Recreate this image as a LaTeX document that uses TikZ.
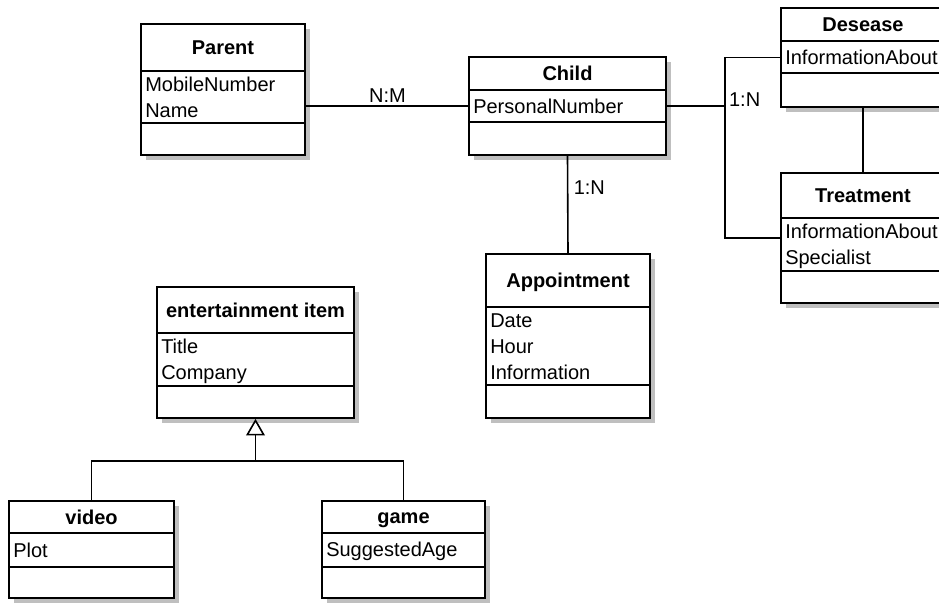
\documentclass[tikz,border=0pt]{standalone}
\usepackage{fontspec}
\setmainfont{Liberation Sans}
\usetikzlibrary{arrows.meta,positioning,fit,calc,shadows}

\newcommand{\rowstrut}{\rule[-2pt]{0pt}{15pt}}
% name, left, top, right, divider 1, divider 2, bottom, title, attributes
\newcommand{\umlclass}[9]{%
  \node[classbox, fit={(#2,#3) (#4,#7)}] (#1) {};
  \draw[conn] (#2,#5) -- (#4,#5) (#2,#6) -- (#4,#6);
  \node[classtitle] (#1-t) at ({(#2+#4)/2},{(#3+#5)/2}) {\rowstrut#8};
  \node[classattr] (#1-a) at (#2,{(#5+#6)/2}) {\rowstrut#9\rowstrut};
}

\begin{document}
\begin{tikzpicture}[x=0.75pt,y=-0.75pt,
    font=\fontsize{15}{19.5}\selectfont,
    classbox/.style={draw,line width=1.2pt,fill=white,inner sep=0pt,
      drop shadow={shadow xshift=4pt,shadow yshift=-4pt,fill=black!25,opacity=1}},
    classtitle/.style={font=\fontsize{15}{18}\selectfont\bfseries,inner sep=0pt},
    classattr/.style={anchor=west,align=left,inner xsep=3pt,inner ysep=0pt},
    conn/.style={line width=1.2pt},
    gen/.style={conn,-{Triangle[open,length=12.5pt,width=14pt]}},
    card/.style={inner sep=2pt}]
  \useasboundingbox (0,0) rectangle (939,603);
  \clip (0,0) rectangle (939,603);

  \umlclass{parent}{141}{24}{305}{71}{123}{155}{Parent}{MobileNumber\\Name}
  \umlclass{child}{469}{57}{666}{90}{122}{155}{Child}{PersonalNumber}
  \umlclass{des}{781}{8}{945}{41}{73}{107}{Desease}{InformationAbout}
  \umlclass{trt}{781}{173}{945}{218}{271}{303}{Treatment}{InformationAbout\\Specialist}
  \umlclass{appt}{486}{254}{650}{307}{385}{418}{Appointment}{Date\\Hour\\Information}
  \umlclass{ent}{157}{287}{354}{333}{386}{418}{entertainment item}{Title\\Company}
  \umlclass{video}{9}{501}{174}{533}{567}{598}{video}{Plot}
  \umlclass{game}{322}{501}{485}{533}{567}{598}{game}{SuggestedAge}

  % associations
  \draw[conn] (parent.east |- child-a.west) -- node[card,above] (nm) {N:M} (child-a.west);
  \coordinate (jn) at ($(child.east |- child-a.west)+(58,0)$);
  \draw[conn] (child.east |- child-a.west) -- (jn);
  \draw[conn] (des.west) -| (jn) |- (trt.west);
  \node[card,anchor=base west] (dn) at ([xshift=1pt]jn) {1:N};
  \draw[conn] (des.south) -- (trt.north);
  \draw[conn] (child.south) -- node[card,right=2pt,pos=0.33] (an) {1:N} (appt.north);

  % generalization
  \coordinate (gsplit) at ($(ent.south)+(0,42)$);
  \draw[gen] (gsplit) -- (ent.south);
  \draw[conn] (video.north) |- (gsplit) -| (game.north);
\end{tikzpicture}
\end{document}
